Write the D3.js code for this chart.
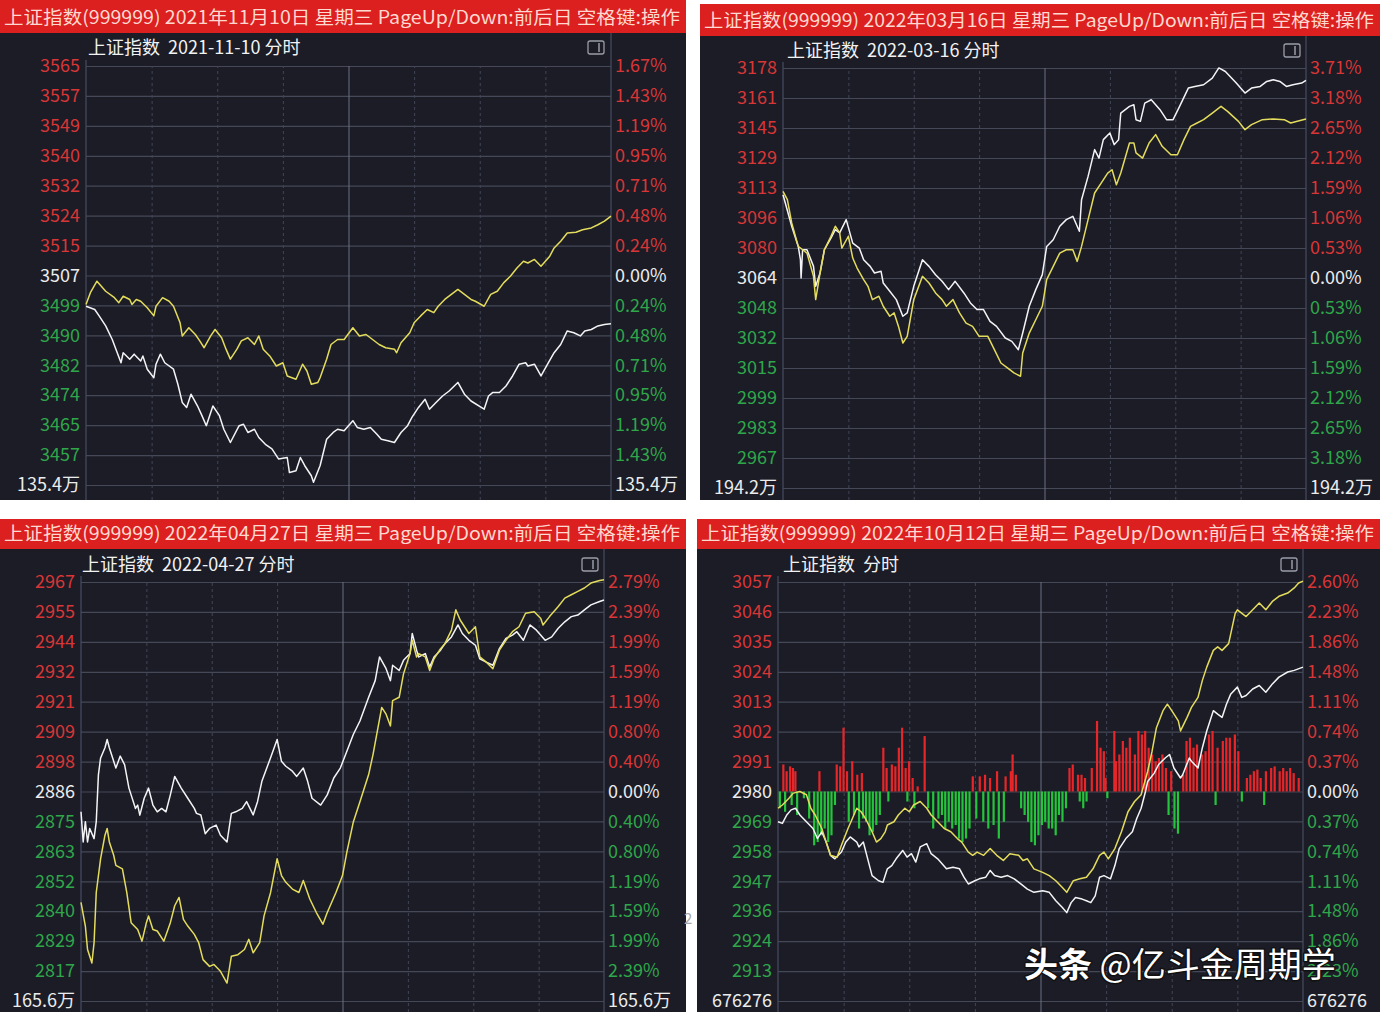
<!DOCTYPE html>
<html>
<head>
<meta charset="utf-8">
<script src="https://cdn.jsdelivr.net/npm/d3@7"></script>
<style>
body{margin:0;background:#fff;}
svg{display:block;}
</style>
</head>
<body>
<svg id="chart" width="1380" height="1012"></svg>
<script>
// ---- panel 1 : 2021-11-10 ----
const p1Header = "上证指数(999999) 2021年11月10日 星期三 PageUp/Down:前后日 空格键:操作";
const p1Title = "上证指数  2021-11-10 分时";
const p1LeftTicks = ["3565","3557","3549","3540","3532","3524","3515","3507","3499","3490","3482","3474","3465","3457","135.4万"];
const p1RightTicks = ["1.67%","1.43%","1.19%","0.95%","0.71%","0.48%","0.24%","0.00%","0.24%","0.48%","0.71%","0.95%","1.19%","1.43%","135.4万"];
const p1PreClose = 3507, p1Step = 8.37;
const p1White = [[0,3498.4],[4,3497.5],[6,3495.7],[9,3492.9],[12,3489.1],[16,3482.6],[17,3485.4],[20,3483.6],[22,3485.0],[25,3483.1],[26,3484.5],[28,3480.8],[31,3478.4],[32,3482.2],[34,3485.0],[36,3482.6],[40,3480.8],[42,3476.6],[44,3471.5],[46,3470.1],[48,3473.8],[51,3470.5],[53,3467.8],[55,3465.0],[58,3470.5],[61,3467.8],[63,3464.0],[66,3460.3],[70,3465.0],[72,3465.4],[74,3463.1],[77,3464.0],[79,3461.7],[82,3459.8],[85,3458.5],[88,3455.7],[92,3456.1],[93,3451.9],[96,3452.4],[98,3456.1],[100,3453.8],[103,3451.0],[104,3449.2],[107,3453.8],[110,3461.2],[113,3463.1],[115,3464.0],[118,3463.6],[122,3466.4],[124,3464.5],[127,3464.0],[130,3464.5],[133,3462.6],[135,3461.2],[138,3460.8],[141,3460.3],[144,3463.1],[147,3465.0],[149,3467.3],[152,3470.1],[155,3472.4],[157,3469.6],[160,3471.5],[163,3473.3],[166,3474.7],[170,3477.1],[173,3473.8],[176,3471.9],[182,3469.6],[184,3473.3],[186,3474.3],[189,3474.3],[192,3476.1],[195,3478.9],[198,3482.2],[201,3482.6],[202,3481.7],[205,3482.2],[208,3478.9],[211,3482.2],[214,3485.4],[217,3487.7],[220,3491.5],[223,3491.0],[226,3490.1],[228,3491.5],[231,3491.9],[234,3492.9],[237,3493.3],[240,3493.5]];
const p1Yellow = [[0,3498.9],[2,3502.2],[5,3505.4],[7,3504.0],[9,3502.6],[13,3500.8],[15,3499.4],[17,3501.2],[20,3500.3],[21,3498.9],[23,3500.3],[25,3499.8],[28,3498.0],[31,3495.7],[32,3498.4],[35,3500.8],[38,3499.8],[40,3498.4],[43,3493.8],[44,3490.1],[47,3492.4],[50,3490.5],[52,3488.7],[54,3486.8],[57,3490.1],[59,3491.9],[62,3489.6],[64,3486.4],[66,3483.6],[69,3486.4],[71,3488.7],[74,3489.6],[77,3487.7],[79,3490.1],[81,3486.4],[84,3484.5],[87,3481.7],[90,3482.6],[92,3478.9],[96,3478.0],[99,3482.2],[101,3480.3],[103,3476.6],[106,3477.1],[107,3478.4],[110,3483.6],[112,3487.7],[115,3489.1],[118,3489.1],[122,3492.4],[125,3490.1],[128,3490.5],[131,3489.1],[134,3487.7],[137,3486.8],[141,3486.4],[142,3485.4],[144,3488.2],[148,3491.0],[150,3493.8],[153,3495.7],[156,3497.5],[159,3496.6],[161,3498.4],[164,3500.3],[167,3501.7],[170,3503.1],[173,3501.7],[176,3500.3],[178,3499.8],[182,3498.4],[185,3501.7],[188,3502.6],[191,3505.0],[194,3506.8],[197,3509.1],[200,3511.0],[202,3510.5],[205,3511.5],[208,3509.6],[212,3512.4],[214,3514.7],[217,3516.6],[220,3518.9],[224,3519.1],[227,3519.8],[231,3520.3],[234,3521.2],[237,3522.2],[240,3523.6]];

// ---- panel 2 : 2022-03-16 ----
const p2Header = "上证指数(999999) 2022年03月16日 星期三 PageUp/Down:前后日 空格键:操作";
const p2Title = "上证指数  2022-03-16 分时";
const p2LeftTicks = ["3178","3161","3145","3129","3113","3096","3080","3064","3048","3032","3015","2999","2983","2967","194.2万"];
const p2RightTicks = ["3.71%","3.18%","2.65%","2.12%","1.59%","1.06%","0.53%","0.00%","0.53%","1.06%","1.59%","2.12%","2.65%","3.18%","194.2万"];
const p2PreClose = 3064, p2Step = 16.24;
const p2White = [[0,3109.1],[4,3092.0],[7,3081.1],[8,3073.9],[8.3,3064.0],[9,3079.3],[11,3079.3],[14,3070.3],[15,3059.5],[17,3066.7],[19,3079.3],[22,3085.6],[24,3090.2],[26,3088.4],[29,3095.6],[32,3082.9],[35,3080.2],[37,3073.9],[40,3070.3],[42,3066.7],[45,3067.6],[46,3061.3],[49,3056.8],[52,3052.3],[55,3043.3],[57,3045.1],[60,3059.5],[64,3073.9],[67,3070.3],[70,3065.8],[73,3062.2],[76,3057.7],[79,3062.2],[83,3055.9],[86,3050.5],[89,3046.9],[92,3046.9],[95,3040.5],[98,3037.8],[102,3031.5],[105,3029.7],[108,3025.2],[110,3034.2],[113,3048.7],[116,3057.7],[119,3065.8],[121,3081.1],[124,3084.7],[127,3092.0],[130,3095.6],[133,3097.4],[136,3089.3],[137,3106.4],[140,3119.0],[143,3133.5],[145,3128.9],[147,3138.9],[150,3142.5],[152,3136.2],[154,3138.9],[155,3153.3],[159,3156.9],[161,3157.8],[162,3149.7],[164,3148.8],[166,3158.7],[169,3160.5],[173,3155.1],[176,3149.7],[179,3149.7],[182,3156.9],[186,3166.8],[189,3167.7],[193,3168.6],[197,3172.2],[200,3177.7],[203,3175.8],[208,3169.5],[212,3164.1],[215,3166.8],[219,3167.7],[222,3170.4],[225,3171.3],[228,3170.4],[231,3167.7],[234,3168.6],[238,3169.5],[240,3171.0]];
const p2Yellow = [[0,3110.9],[2,3106.4],[4,3093.8],[7,3081.1],[9,3079.3],[11,3077.5],[14,3064.9],[15,3052.3],[17,3066.7],[19,3079.3],[22,3086.6],[24,3092.0],[26,3088.4],[27,3080.2],[30,3086.6],[32,3074.8],[34,3069.4],[37,3063.1],[39,3059.5],[41,3052.3],[44,3054.1],[46,3048.7],[49,3043.3],[51,3045.1],[53,3037.8],[55,3028.8],[57,3032.4],[60,3052.3],[64,3064.9],[67,3061.3],[70,3055.9],[73,3052.3],[75,3048.7],[78,3052.3],[81,3045.1],[84,3039.6],[87,3037.8],[90,3032.4],[94,3032.4],[97,3025.2],[100,3018.0],[103,3015.3],[106,3012.6],[109,3010.8],[110,3023.4],[113,3034.2],[116,3041.4],[119,3048.7],[121,3063.1],[124,3070.3],[127,3077.5],[130,3079.3],[133,3079.3],[135,3073.0],[137,3081.1],[140,3095.6],[143,3110.0],[146,3115.4],[149,3120.8],[151,3122.6],[153,3114.5],[155,3120.8],[159,3137.1],[161,3137.1],[162,3131.7],[165,3128.9],[168,3137.1],[171,3141.6],[174,3135.3],[178,3130.7],[181,3130.7],[184,3138.9],[187,3146.1],[190,3147.9],[193,3149.7],[197,3153.3],[201,3156.9],[204,3154.2],[209,3148.8],[212,3144.3],[215,3147.0],[220,3149.7],[225,3150.1],[230,3149.7],[233,3147.9],[236,3148.8],[240,3150.1]];

// ---- panel 3 : 2022-04-27 ----
const p3Header = "上证指数(999999) 2022年04月27日 星期三 PageUp/Down:前后日 空格键:操作";
const p3Title = "上证指数  2022-04-27 分时";
const p3LeftTicks = ["2967","2955","2944","2932","2921","2909","2898","2886","2875","2863","2852","2840","2829","2817","165.6万"];
const p3RightTicks = ["2.79%","2.39%","1.99%","1.59%","1.19%","0.80%","0.40%","0.00%","0.40%","0.80%","1.19%","1.59%","1.99%","2.39%","165.6万"];
const p3PreClose = 2886, p3Step = 11.5;
const p3White = [[0,2878.2],[1,2866.6],[2,2874.4],[3,2866.6],[4,2871.8],[6,2867.9],[7,2874.4],[8,2892.5],[9,2898.9],[11,2902.8],[12,2906.0],[13,2902.8],[15,2897.6],[16,2895.0],[18,2899.6],[20,2896.3],[22,2887.3],[23,2884.7],[25,2879.5],[26,2880.8],[27,2876.9],[29,2883.4],[31,2887.3],[33,2880.8],[35,2878.2],[37,2879.5],[39,2878.2],[41,2884.7],[43,2891.8],[46,2887.3],[49,2883.4],[52,2879.5],[53,2877.6],[55,2877.0],[57,2869.8],[59,2871.8],[62,2873.1],[64,2869.2],[67,2866.6],[69,2877.6],[71,2878.2],[74,2879.5],[76,2882.1],[79,2877.0],[81,2882.1],[83,2889.9],[87,2899.0],[90,2906.0],[92,2897.6],[94,2895.7],[97,2893.8],[99,2891.8],[102,2895.0],[104,2889.9],[106,2883.4],[110,2880.8],[113,2884.7],[116,2891.2],[119,2895.0],[122,2901.5],[125,2908.0],[128,2913.1],[132,2922.2],[135,2928.6],[137,2937.7],[140,2933.2],[142,2928.6],[143,2934.5],[146,2932.5],[148,2936.4],[151,2939.0],[152,2946.7],[154,2940.3],[155,2937.7],[158,2939.0],[160,2933.8],[162,2937.7],[165,2940.3],[167,2942.8],[170,2945.4],[173,2950.0],[175,2946.7],[178,2944.1],[181,2942.2],[183,2937.0],[186,2935.7],[189,2934.5],[192,2940.9],[195,2944.8],[198,2946.1],[200,2947.4],[203,2944.1],[206,2950.0],[209,2948.0],[213,2944.1],[216,2945.4],[219,2948.7],[222,2951.2],[225,2953.2],[228,2953.8],[231,2955.8],[234,2957.7],[238,2959.0],[240,2959.6]];
const p3Yellow = [[0,2843.4],[2,2834.3],[3,2825.3],[5,2820.1],[6,2827.9],[7,2847.2],[9,2860.2],[11,2869.2],[12,2871.8],[13,2866.6],[15,2861.5],[16,2857.6],[19,2856.3],[21,2847.2],[23,2835.6],[26,2833.0],[28,2828.5],[30,2835.6],[31,2838.2],[33,2833.0],[35,2832.4],[38,2828.5],[41,2835.6],[43,2842.1],[45,2845.3],[47,2836.9],[49,2834.3],[52,2831.1],[54,2827.9],[56,2821.4],[59,2818.8],[61,2819.5],[64,2816.9],[67,2812.4],[69,2822.7],[72,2823.3],[75,2825.3],[77,2829.2],[79,2824.0],[82,2827.9],[84,2838.2],[87,2847.2],[90,2860.2],[92,2853.7],[94,2851.1],[97,2848.5],[100,2847.2],[102,2851.8],[105,2844.7],[108,2839.5],[111,2835.0],[113,2839.5],[117,2847.2],[120,2853.7],[122,2862.7],[125,2874.4],[128,2882.1],[132,2892.5],[134,2900.2],[136,2909.3],[138,2918.3],[140,2915.7],[142,2911.2],[143,2920.9],[146,2922.2],[148,2931.2],[151,2939.0],[152,2944.1],[154,2937.7],[155,2939.0],[158,2937.7],[160,2932.5],[162,2937.0],[165,2940.9],[167,2942.8],[170,2948.0],[172,2955.8],[174,2951.9],[178,2946.7],[181,2949.3],[183,2937.7],[186,2935.7],[189,2933.2],[192,2940.3],[195,2944.1],[198,2947.4],[201,2949.3],[204,2954.5],[208,2955.1],[211,2952.5],[212,2950.0],[215,2953.2],[219,2957.1],[222,2960.3],[225,2961.6],[228,2962.9],[231,2964.2],[234,2966.1],[238,2967.1],[240,2967.4]];

// ---- panel 4 : 2022-10-12 ----
const p4Header = "上证指数(999999) 2022年10月12日 星期三 PageUp/Down:前后日 空格键:操作";
const p4Title = "上证指数  分时";
const p4LeftTicks = ["3057","3046","3035","3024","3013","3002","2991","2980","2969","2958","2947","2936","2924","2913","676276"];
const p4RightTicks = ["2.60%","2.23%","1.86%","1.48%","1.11%","0.74%","0.37%","0.00%","0.37%","0.74%","1.11%","1.48%","1.86%","2.23%","676276"];
const p4PreClose = 2980, p4Step = 11.07;
const p4White = [[0,2968.8],[2,2968.2],[4,2971.3],[6,2973.2],[8,2973.8],[10,2971.3],[13,2968.8],[16,2966.3],[18,2962.6],[20,2965.1],[22,2961.3],[24,2956.4],[26,2955.1],[29,2957.6],[31,2961.3],[33,2963.2],[36,2961.3],[37,2959.5],[39,2961.3],[41,2955.1],[43,2948.9],[46,2947.0],[48,2946.4],[50,2951.4],[52,2952.6],[54,2955.1],[57,2958.2],[59,2955.7],[61,2957.0],[63,2953.9],[65,2959.5],[68,2960.7],[70,2957.0],[73,2955.1],[75,2953.3],[77,2951.4],[80,2952.0],[83,2951.4],[85,2948.3],[87,2945.8],[90,2947.0],[92,2947.7],[95,2948.3],[97,2950.8],[99,2948.9],[102,2948.3],[105,2948.9],[108,2947.7],[111,2945.8],[114,2943.9],[117,2942.7],[121,2943.3],[124,2942.7],[127,2939.6],[130,2937.1],[132,2935.2],[134,2938.9],[136,2940.8],[139,2940.2],[141,2939.6],[143,2938.9],[145,2941.4],[147,2948.3],[149,2948.9],[152,2947.7],[154,2952.6],[156,2958.9],[159,2962.6],[162,2965.1],[164,2970.0],[166,2973.8],[168,2980.0],[169,2983.7],[172,2986.8],[174,2990.0],[177,2992.4],[179,2993.7],[181,2988.7],[184,2985.0],[185,2986.2],[188,2992.4],[189,2991.2],[192,2988.7],[194,2996.2],[196,3002.4],[199,3009.9],[201,3008.6],[203,3007.4],[205,3012.3],[207,3016.1],[210,3018.6],[212,3014.8],[214,3015.5],[217,3017.9],[220,3019.2],[223,3016.7],[226,3019.8],[229,3022.3],[233,3024.2],[236,3024.8],[240,3026.0]];
const p4Yellow = [[0,2973.8],[2,2975.0],[5,2977.5],[7,2979.4],[10,2980.0],[13,2978.8],[15,2973.8],[17,2971.3],[20,2966.3],[22,2961.3],[24,2956.4],[27,2955.7],[29,2960.1],[32,2966.3],[34,2970.0],[36,2973.8],[38,2972.5],[40,2970.0],[43,2965.1],[45,2961.3],[47,2962.6],[49,2965.1],[50,2967.6],[53,2968.8],[55,2971.3],[58,2973.8],[60,2972.5],[62,2975.0],[65,2976.3],[68,2973.8],[70,2971.3],[73,2968.8],[76,2966.3],[79,2965.1],[82,2962.6],[84,2961.3],[87,2957.6],[89,2956.4],[91,2957.6],[94,2956.4],[97,2958.9],[100,2956.4],[103,2954.5],[106,2957.0],[110,2956.4],[112,2954.5],[114,2955.1],[117,2951.4],[121,2950.1],[124,2948.9],[127,2947.0],[130,2944.5],[132,2942.7],[135,2947.0],[138,2947.7],[141,2948.3],[144,2951.4],[147,2956.4],[149,2957.6],[151,2955.1],[154,2958.9],[157,2965.1],[160,2972.5],[163,2976.3],[166,2978.8],[169,2987.5],[171,2994.9],[173,3003.6],[176,3009.9],[178,3012.3],[180,3009.9],[183,3006.1],[184,3002.4],[187,3007.4],[189,3011.1],[192,3014.8],[194,3021.1],[196,3026.0],[199,3032.2],[201,3033.5],[203,3032.2],[206,3034.7],[209,3045.9],[210,3047.2],[214,3044.7],[217,3047.2],[220,3049.7],[223,3047.2],[226,3050.3],[229,3052.2],[233,3053.4],[236,3055.3],[238,3057.1],[240,3057.8]];
// strength bars around the 2980 line (index points, + red / - green)
const p4Bars = [[0.8,-6.2],[2.4,10.0],[3.2,-7.5],[3.9,7.5],[5.5,9.3],[6.2,-5.0],[6.8,8.7],[7.9,7.5],[8.7,-8.7],[11.8,-2.5],[14.2,-10.0],[16.5,-19.9],[18.1,-18.7],[18.9,7.5],[19.7,-16.2],[21.3,-13.7],[22.9,-18.7],[24.4,-16.2],[26.0,-5.0],[26.8,10.0],[28.4,9.3],[29.9,23.6],[31.5,7.5],[32.3,-11.2],[33.9,11.2],[34.7,-8.7],[36.2,6.2],[37.0,-13.7],[38.3,6.8],[38.8,-10.0],[40.2,-11.2],[41.8,-16.2],[43.3,-14.9],[44.9,-12.4],[46.5,-8.7],[48.1,16.2],[49.6,8.7],[50.4,-3.7],[52.0,10.0],[53.6,9.3],[55.2,16.2],[56.7,23.6],[58.3,8.7],[59.1,-3.7],[59.9,11.2],[61.5,5.0],[62.3,-6.2],[63.8,1.9],[67.0,20.5],[68.6,-6.2],[70.9,-13.7],[73.3,-10.0],[74.9,-8.7],[76.4,-13.7],[78.0,-11.2],[79.6,-13.7],[81.2,-12.4],[82.7,-17.4],[84.3,-18.7],[85.9,-17.4],[87.5,-13.7],[89.0,5.6],[90.6,-10.0],[92.2,5.6],[93.8,-11.2],[94.6,6.2],[96.1,-13.7],[96.9,5.0],[98.5,-12.4],[100.1,7.5],[100.9,-17.4],[103.2,-11.2],[104.0,5.6],[106.4,7.5],[107.2,13.7],[108.7,6.2],[111.1,-6.2],[112.7,-8.7],[114.3,-11.2],[115.8,-18.7],[117.4,-19.9],[119.0,-16.2],[120.6,-12.4],[122.1,-11.2],[123.7,-13.7],[125.3,-13.7],[126.9,-16.2],[128.4,-8.7],[130.0,-11.2],[131.6,-6.2],[133.2,8.7],[134.7,10.0],[137.1,6.2],[137.9,-3.7],[138.7,6.2],[139.5,-6.2],[140.3,5.0],[141.0,-3.7],[143.4,8.7],[145.8,26.1],[147.4,16.2],[148.9,14.9],[149.7,5.0],[150.5,-2.5],[153.7,22.4],[154.4,11.2],[156.0,13.7],[157.6,18.7],[159.2,16.2],[160.8,19.9],[163.1,13.7],[164.7,22.4],[166.3,21.1],[167.8,22.4],[169.4,16.2],[171.0,13.7],[172.6,11.2],[174.1,12.4],[175.7,13.7],[177.3,8.7],[178.5,-8.7],[179.7,7.5],[181.2,-13.7],[182.8,-15.6],[185.2,6.2],[186.7,18.7],[188.3,19.9],[189.9,16.2],[191.5,17.4],[193.8,13.7],[195.4,14.9],[197.0,21.1],[198.6,22.4],[200.0,-5.0],[200.9,16.2],[203.3,18.7],[204.9,19.9],[206.5,19.9],[208.8,21.1],[210.4,14.9],[212.0,-3.7],[214.3,5.0],[215.9,6.2],[217.5,7.5],[219.1,8.1],[220.6,5.0],[222.2,-5.0],[223.0,7.5],[225.4,8.7],[227.0,9.3],[229.3,7.5],[230.9,8.7],[232.5,7.5],[234.1,8.7],[235.7,6.8],[238.0,5.0]];

const watermarkBold = "头条";
const watermarkRest = " @亿斗金周期学";

// ---- layout ----
const BG = "#1b1c26", HEAD = "#dc1f1f", GRID = "#454957";
const RED = "#d83636", GREEN = "#2fa64a", WHITE = "#ececec";
const LABEL_FONT = "'Noto Sans CJK SC', 'Noto Sans', sans-serif";

const panels = [
    {x0:0,   x1:686,  y0:0,   y1:500,  headB:33,  plotL:86,  plotR:611,  plotT:66,  plotB:485,  titleX:88,  titleY:48,  iconX:588,
     header:p1Header, title:p1Title, left:p1LeftTicks, right:p1RightTicks, pre:p1PreClose, step:p1Step, white:p1White, yellow:p1Yellow},
    {x0:700, x1:1380, y0:4,   y1:500,  headB:36,  plotL:783, plotR:1306, plotT:68,  plotB:488,  titleX:787, titleY:51,  iconX:1284,
     header:p2Header, title:p2Title, left:p2LeftTicks, right:p2RightTicks, pre:p2PreClose, step:p2Step, white:p2White, yellow:p2Yellow},
    {x0:0,   x1:686,  y0:519, y1:1012, headB:549, plotL:81,  plotR:604,  plotT:582, plotB:1001, titleX:82,  titleY:565, iconX:582,
     header:p3Header, title:p3Title, left:p3LeftTicks, right:p3RightTicks, pre:p3PreClose, step:p3Step, white:p3White, yellow:p3Yellow},
    {x0:697, x1:1380, y0:519, y1:1012, headB:549, plotL:778, plotR:1303, plotT:582, plotB:1001, titleX:783, titleY:565, iconX:1281,
     header:p4Header, title:p4Title, left:p4LeftTicks, right:p4RightTicks, pre:p4PreClose, step:p4Step, white:p4White, yellow:p4Yellow, bars:p4Bars}
];

const svg = d3.select("#chart");

function labelColor(i){
    if(i < 7) return RED;
    if(i == 7 || i == 14) return WHITE;
    return GREEN;
}

function drawPanel(p){
    let g = svg.append("g");

    // background + header
    g.append("rect").attr("x", p.x0).attr("y", p.y0).attr("width", p.x1 - p.x0).attr("height", p.y1 - p.y0).attr("fill", BG);
    g.append("rect").attr("x", p.x0).attr("y", p.y0).attr("width", p.x1 - p.x0).attr("height", p.headB - p.y0).attr("fill", HEAD);
    g.append("text")
        .attr("x", p.x0 + 4).attr("y", p.headB - 9)
        .attr("textLength", p.x1 - p.x0 - 10).attr("lengthAdjust", "spacingAndGlyphs")
        .style("font-family", LABEL_FONT).style("font-size", "18px")
        .attr("fill", "#ffd9d0")
        .text(p.header);

    // scales
    let x = d3.scaleLinear().domain([0, 240]).range([p.plotL, p.plotR]);
    let y = d3.scaleLinear().domain([p.pre - 7 * p.step, p.pre + 7 * p.step]).range([p.plotB, p.plotT]);
    let rows = d3.range(15).map(i => p.pre + (7 - i) * p.step);

    // frame lines
    g.append("line").attr("x1", p.plotL).attr("x2", p.plotL).attr("y1", p.plotT - 6).attr("y2", p.y1).attr("stroke", "#50556a");
    g.append("line").attr("x1", p.plotR).attr("x2", p.plotR).attr("y1", p.headB).attr("y2", p.y1).attr("stroke", "#50556a");

    // horizontal grid
    let hgrid = g.append("g").attr("transform", `translate(${p.plotL},0)`)
        .call(d3.axisLeft(y).tickValues(rows).tickSize(-(p.plotR - p.plotL)).tickFormat(""));
    hgrid.select(".domain").remove();
    hgrid.selectAll("line").attr("stroke", GRID).attr("stroke-width", 1.2);

    // vertical grid, every 30 minutes
    let vgrid = g.append("g").attr("transform", `translate(0,${p.y1})`)
        .call(d3.axisBottom(x).tickValues(d3.range(30, 240, 30)).tickSize(-(p.y1 - p.plotT)).tickFormat(""));
    vgrid.select(".domain").remove();
    vgrid.selectAll("line")
        .attr("stroke", d => d == 120 ? "#6a6f80" : "#414556")
        .attr("stroke-dasharray", d => d == 120 ? null : "3,3");

    // left / right labels
    let leftAx = g.append("g").attr("transform", `translate(${p.plotL},0)`)
        .call(d3.axisLeft(y).tickValues(rows).tickSize(0).tickPadding(6).tickFormat((d, i) => p.left[i]));
    leftAx.select(".domain").remove();
    leftAx.selectAll("text")
        .style("font-family", LABEL_FONT).style("font-size", "18px")
        .attr("fill", (d, i) => labelColor(i));

    let rightAx = g.append("g").attr("transform", `translate(${p.plotR},0)`)
        .call(d3.axisRight(y).tickValues(rows).tickSize(0).tickPadding(4).tickFormat((d, i) => p.right[i]));
    rightAx.select(".domain").remove();
    rightAx.selectAll("text")
        .style("font-family", LABEL_FONT).style("font-size", "18px")
        .attr("fill", (d, i) => labelColor(i));

    // title + small icon
    g.append("text").attr("x", p.titleX).attr("y", p.titleY + 6)
        .style("font-family", LABEL_FONT).style("font-size", "18px")
        .attr("fill", "#f2f2f2").attr("xml:space", "preserve")
        .text(p.title);
    g.append("rect").attr("x", p.iconX).attr("y", p.titleY - 7).attr("width", 16).attr("height", 13).attr("rx", 2)
        .attr("fill", "none").attr("stroke", "#9a9ca8").attr("stroke-width", 1.3);
    g.append("line").attr("x1", p.iconX + 11).attr("x2", p.iconX + 11).attr("y1", p.titleY - 5).attr("y2", p.titleY + 4)
        .attr("stroke", "#9a9ca8").attr("stroke-width", 1.5);

    // strength bars
    if(p.bars){
        g.selectAll("rect.bar")
            .data(p.bars)
            .enter()
            .append("rect")
            .attr("class", "bar")
            .attr("x", d => x(d[0]) - 1)
            .attr("width", 2.2)
            .attr("y", d => d[1] > 0 ? y(p.pre + d[1]) : y(p.pre))
            .attr("height", d => Math.abs(y(p.pre + d[1]) - y(p.pre)))
            .attr("fill", d => d[1] > 0 ? "#e8262a" : "#24c43c");
    }

    let line = d3.line().x(d => x(d[0])).y(d => y(d[1]));
    g.append("path").datum(p.white).attr("d", line)
        .attr("fill", "none").attr("stroke", "#f4f4f6").attr("stroke-width", 1.5).attr("stroke-linejoin", "round");
    g.append("path").datum(p.yellow).attr("d", line)
        .attr("fill", "none").attr("stroke", "#e4dc5c").attr("stroke-width", 1.5).attr("stroke-linejoin", "round");
}

panels.forEach(drawPanel);

// stray page mark between panels
svg.append("text").attr("x", 684).attr("y", 924)
    .style("font-family", LABEL_FONT).style("font-size", "15px").attr("fill", "#a8a8a8").text("2");

// watermark (sits over the bottom-right labels, as in the source)
let wm = svg.append("text").attr("x", 1024).attr("y", 977)
    .style("font-family", "'Noto Sans CJK SC', sans-serif").style("font-size", "34px")
    .attr("fill", "#ffffff").attr("stroke", "#111111").attr("stroke-width", 3)
    .attr("paint-order", "stroke").attr("stroke-linejoin", "round");
wm.append("tspan").style("font-weight", "bold").text(watermarkBold);
wm.append("tspan").attr("xml:space", "preserve").text(watermarkRest);
</script>
</body>
</html>
